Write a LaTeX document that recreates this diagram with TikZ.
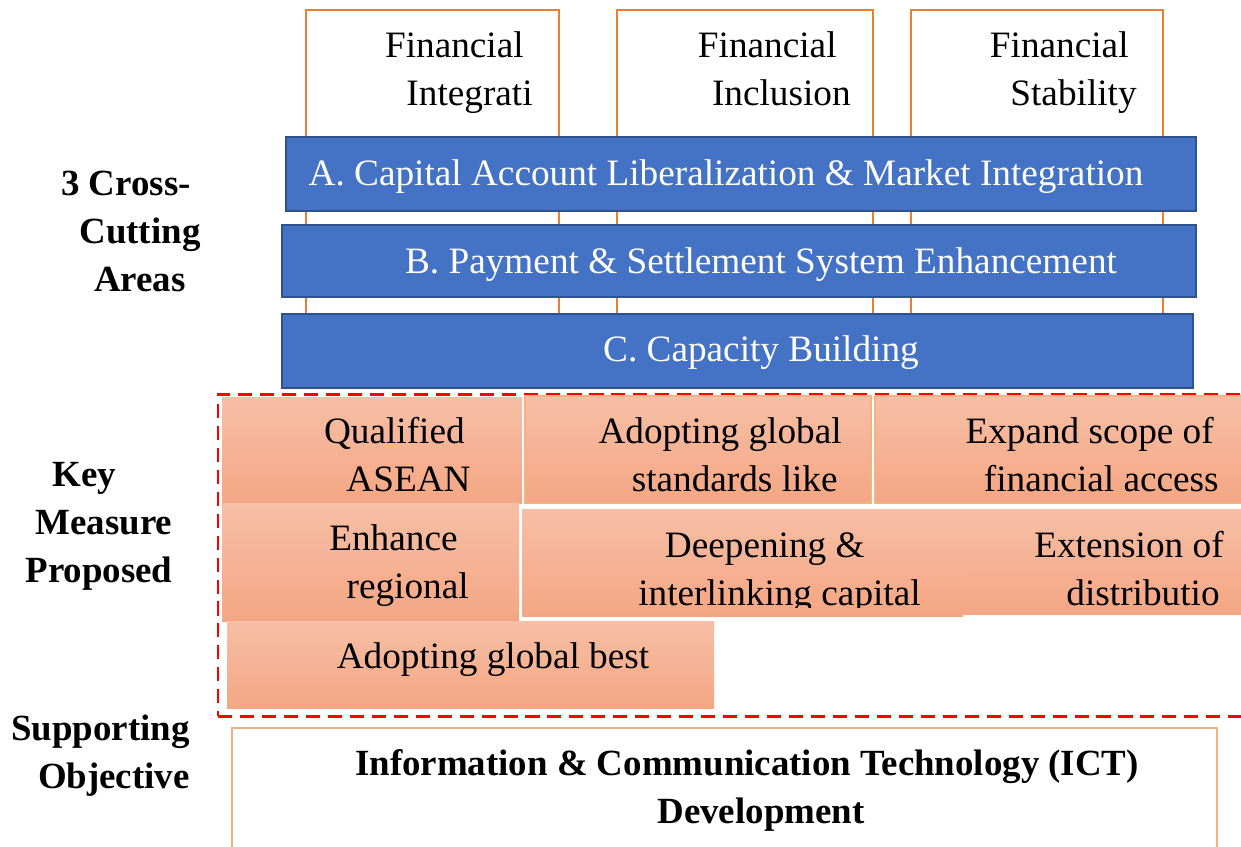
\documentclass[tikz,border=0pt]{standalone}
\usepackage{fontspec}
\setmainfont{Liberation Serif}
\usepackage{tikz}
\usetikzlibrary{positioning,fit}

\definecolor{pillarorange}{HTML}{ED7D31}
\definecolor{barblue}{HTML}{4472C4}
\definecolor{barborder}{HTML}{2F528F}
\definecolor{salmontop}{HTML}{F6BFA6}
\definecolor{salmonbot}{HTML}{F4A683}
\definecolor{lightorange}{HTML}{F4B183}

\begin{document}
\begin{tikzpicture}[x=0.02cm,y=-0.02cm,
    font=\fontsize{21.2}{27.3}\selectfont,
    pillar/.style={draw=pillarorange, line width=1.1pt, fill=white, inner sep=0pt},
    bar/.style={draw=barborder, fill=barblue, line width=1.1pt, inner sep=0pt},
    measure/.style={top color=salmontop, bottom color=salmonbot, inner sep=0pt},
    txt/.style={inner sep=0pt, align=center,
        execute at begin node=\strut, execute at end node=\strut},
    rtxt/.style={txt, align=right, anchor=east},
    sidetxt/.style={inner sep=0pt, align=center, font=\fontsize{21}{27.3}\selectfont\bfseries}]

\useasboundingbox (0,0) rectangle (1241,846);

% pillars
\node[pillar, fit={(306,10) (559,385)}] (pillar1) {};
\node[pillar, fit={(617,10) (873,385)}] (pillar2) {};
\node[pillar, fit={(911,10) (1163,385)}] (pillar3) {};

\node[rtxt] (pillar1txt) at (533,76) {Financial\hspace*{5.1pt}\\Integrati};
\node[rtxt] (pillar2txt) at (851,76) {Financial\hspace*{8pt}\\Inclusion};
\node[rtxt] (pillar3txt) at (1137,76) {Financial\hspace*{4.6pt}\\Stability};

% cross-cutting bars
\node[bar, fit={(286,137) (1196,211)}] (barA) {};
\node[bar, fit={(282,225) (1196,297)}] (barB) {};
\node[bar, fit={(282,314) (1193,388)}] (barC) {};

\node[txt, text=white] (barAtxt) at (726,176) {A. Capital Account Liberalization \& Market Integration};
\node[txt, text=white] (barBtxt) at (761,264) {B. Payment \& Settlement System Enhancement};
\node[txt, text=white] (barCtxt) at (761,352) {C. Capacity Building};

% key measures
\node[draw=red, dashed, dash pattern=on 8pt off 4.5pt, line width=1.7pt,
    inner sep=0pt, fit={(218,394) (1260,716)}] (keyframe) {};

\node[measure, fit={(222,397) (522,503)}] (qab) {};
\node[measure, draw=lightorange, line width=0.6pt, fit={(525,396) (871,503)}] (standards) {};
\node[measure, draw=lightorange, line width=0.6pt, fit={(875,396) (1250,503)}] (access) {};
\node[measure, fit={(222,503) (519,621)}] (regional) {};
\node[measure, fit={(522,509) (963,616)}] (capital) {};
\node[measure, fit={(963,509) (1250,614)}] (distribution) {};
\node[measure, fit={(227,621) (714,708)}] (practices) {};

\node[rtxt] (qabtxt) at (471,462) {Qualified\hspace*{3.4pt}\\ASEAN};
\node[rtxt] (standardstxt) at (842,462) {Adopting global\\standards like\hspace*{2.3pt}};
\node[rtxt] (accesstxt) at (1219,462) {Expand scope of\hspace*{2.8pt}\\financial access};
\node[rtxt] (regionaltxt) at (469,569) {Enhance\hspace*{6.3pt}\\regional};
\begin{scope}
  \clip (522,509) rectangle (963,607);
  \node[rtxt] (capitaltxt) at (921,576) {Deepening \&\hspace*{31.9pt}\\interlinking capital};
\end{scope}
\node[rtxt] (distributiontxt) at (1224,576) {Extension of\\distributio\hspace*{2.3pt}};
\node[txt] (practicestxt) at (493,659) {Adopting global best};

% supporting objective
\node[draw=lightorange, line width=1.1pt, inner sep=0pt, fit={(232,728) (1217,860)}] (ict) {};
\node[sidetxt] (icttxt) at (747,790) {Information \& Communication Technology (ICT)\\\hspace*{15.9pt}Development};

% side labels
\node[sidetxt] (crosslbl) at (140,231) {3 Cross-\hspace*{15.9pt}\\Cutting\\Areas};
\node[sidetxt] (keylbl) at (99,526) {Key\hspace*{17pt}\\\hspace*{5.7pt}Measure\\Proposed};
\node[sidetxt, align=right, anchor=east] (supportlbl) at (190,756) {Supporting\\Objective};

\end{tikzpicture}
\end{document}
